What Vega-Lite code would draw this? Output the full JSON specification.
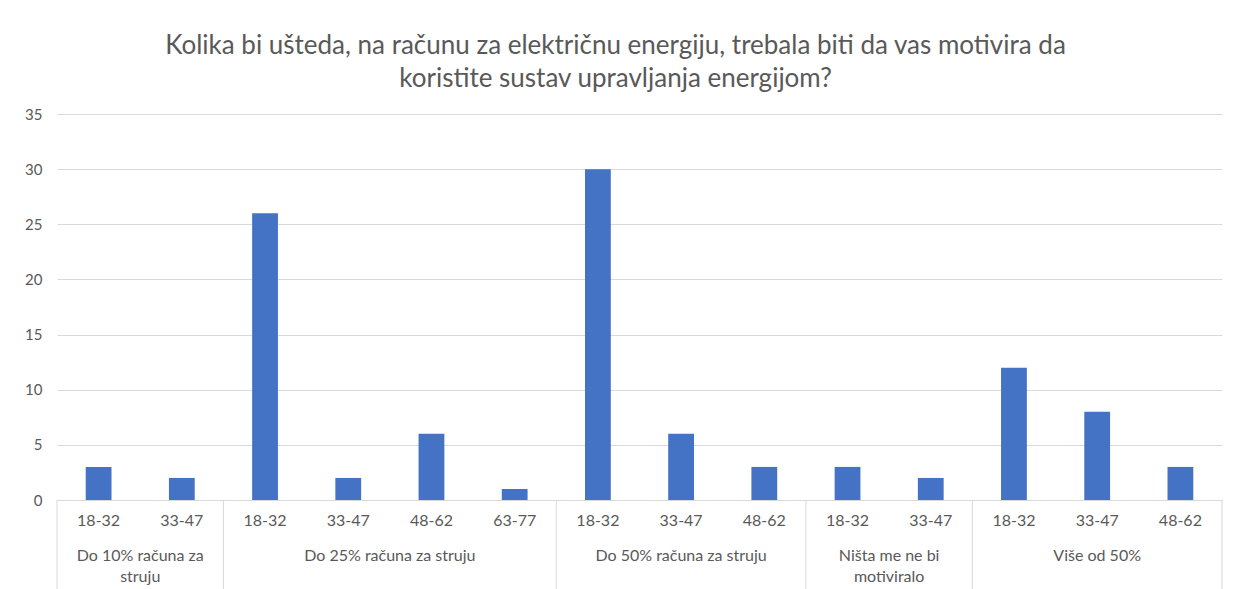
{
  "$schema": "https://vega.github.io/schema/vega-lite/v6.json",
  "width": 1165,
  "height": 386,
  "autosize": {"type": "none"},
  "padding": {"left": 57, "top": 114, "right": 22, "bottom": 89},
  "background": "white",
  "config": {"view": {"stroke": null}, "font": "Lato"},
  "title": {
    "text": ["Kolika bi ušteda, na računu za električnu energiju, trebala biti da vas motivira da", "koristite sustav upravljanja energijom?"],
    "fontSize": 26,
    "font": "Lato",
    "fontWeight": "normal",
    "color": "#595959",
    "lineHeight": 33,
    "offset": 15,
    "anchor": "middle",
    "dx": -24
  },
  "datasets": {
    "bars": [
      {"key": "g1|18-32", "value": 3},
      {"key": "g1|33-47", "value": 2},
      {"key": "g2|18-32", "value": 26},
      {"key": "g2|33-47", "value": 2},
      {"key": "g2|48-62", "value": 6},
      {"key": "g2|63-77", "value": 1},
      {"key": "g3|18-32", "value": 30},
      {"key": "g3|33-47", "value": 6},
      {"key": "g3|48-62", "value": 3},
      {"key": "g4|18-32", "value": 3},
      {"key": "g4|33-47", "value": 2},
      {"key": "g5|18-32", "value": 12},
      {"key": "g5|33-47", "value": 8},
      {"key": "g5|48-62", "value": 3}
    ],
    "seps": [
      {"key": "g1|18-32"},
      {"key": "g2|18-32"},
      {"key": "g3|18-32"},
      {"key": "g4|18-32"},
      {"key": "g5|18-32"}
    ],
    "groupsEven": [
      {"anchor": "g1|33-47", "label": "Do 10% računa za\nstruju"},
      {"anchor": "g2|48-62", "label": "Do 25% računa za struju"},
      {"anchor": "g4|33-47", "label": "Ništa me ne bi\nmotiviralo"}
    ],
    "groupsOdd": [
      {"anchor": "g3|33-47", "label": "Do 50% računa za struju"},
      {"anchor": "g5|33-47", "label": "Više od 50%"}
    ]
  },
  "encoding": {
    "x": {
      "type": "nominal",
      "scale": {
        "domain": ["g1|18-32", "g1|33-47", "g2|18-32", "g2|33-47", "g2|48-62", "g2|63-77", "g3|18-32", "g3|33-47", "g3|48-62", "g4|18-32", "g4|33-47", "g5|18-32", "g5|33-47", "g5|48-62"],
        "paddingInner": 0.69,
        "paddingOuter": 0.345
      },
      "axis": {
        "title": null,
        "ticks": false,
        "tickSize": 0,
        "labelAngle": 0,
        "labelExpr": "split(datum.label, '|')[1]",
        "labelColor": "#595959",
        "labelFontSize": 16,
        "labelPadding": 12,
        "domainColor": "#d9d9d9",
        "grid": false
      }
    }
  },
  "layer": [
    {
      "data": {"name": "bars"},
      "mark": {"type": "bar", "color": "#4472C4"},
      "encoding": {
        "x": {"field": "key", "type": "nominal"},
        "y": {
          "field": "value",
          "type": "quantitative",
          "scale": {"domain": [0, 35], "nice": false},
          "axis": {
            "title": null,
            "domain": false,
            "ticks": false,
            "tickSize": 0,
            "labelPadding": 15,
            "values": [0, 5, 10, 15, 20, 25, 30, 35],
            "grid": true,
            "gridColor": "#d9d9d9",
            "labelColor": "#595959",
            "labelFontSize": 15
          }
        }
      }
    },
    {
      "data": {"name": "seps"},
      "mark": {"type": "rule", "color": "#d9d9d9", "y2Offset": 89},
      "encoding": {
        "x": {"field": "key", "type": "nominal", "bandPosition": -1.1129},
        "y": {"datum": 0, "type": "quantitative"},
        "y2": {"datum": 0}
      }
    },
    {
      "data": {"values": [{"key": "g5|48-62"}]},
      "mark": {"type": "rule", "color": "#d9d9d9", "y2Offset": 89},
      "encoding": {
        "x": {"field": "key", "type": "nominal", "bandPosition": 2.1129},
        "y": {"datum": 0, "type": "quantitative"},
        "y2": {"datum": 0}
      }
    },
    {
      "data": {"name": "groupsEven"},
      "mark": {"type": "text", "baseline": "top", "align": "center", "dy": 48, "fontSize": 16, "color": "#595959", "lineBreak": "\n", "lineHeight": 21},
      "encoding": {
        "x": {"field": "anchor", "type": "nominal", "bandPosition": -1.1129},
        "y": {"datum": 0, "type": "quantitative"},
        "text": {"field": "label"}
      }
    },
    {
      "data": {"name": "groupsOdd"},
      "mark": {"type": "text", "baseline": "top", "align": "center", "dy": 48, "fontSize": 16, "color": "#595959", "lineBreak": "\n", "lineHeight": 21},
      "encoding": {
        "x": {"field": "anchor", "type": "nominal", "bandPosition": 0.5},
        "y": {"datum": 0, "type": "quantitative"},
        "text": {"field": "label"}
      }
    }
  ]
}
